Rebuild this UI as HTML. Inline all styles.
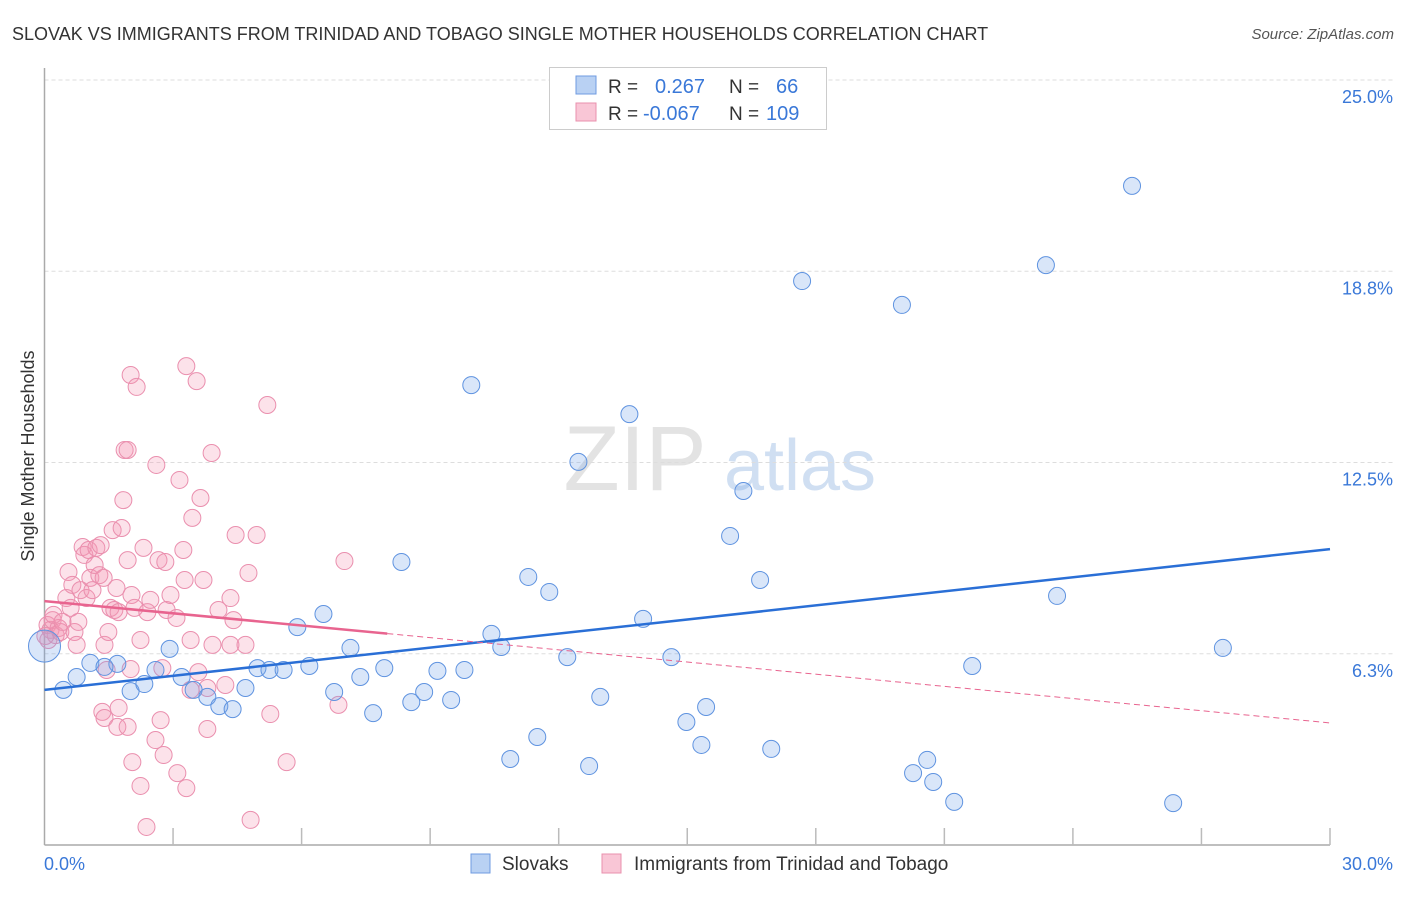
<!DOCTYPE html>
<html><head><meta charset="utf-8">
<style>
body{margin:0;background:#fff;font-family:"Liberation Sans",sans-serif;}
svg text{font-family:"Liberation Sans",sans-serif;}
</style></head>
<body>
<svg id="chart" width="1406" height="892" xmlns="http://www.w3.org/2000/svg">
<text x="12" y="40" font-size="18" fill="#333">SLOVAK VS IMMIGRANTS FROM TRINIDAD AND TOBAGO SINGLE MOTHER HOUSEHOLDS CORRELATION CHART</text>
<text x="1394" y="39" font-size="15" fill="#555" text-anchor="end" font-style="italic">Source: ZipAtlas.com</text>
<text transform="translate(34,456) rotate(-90)" font-size="18" fill="#333" text-anchor="middle">Single Mother Households</text>
<g>
<text x="635" y="490" font-size="92" fill="#ddd" text-anchor="middle" font-family="Liberation Serif" opacity="0.8">ZIP</text>
<text x="800" y="490" font-size="72" fill="#c5d8ef" text-anchor="middle" opacity="0.8">atlas</text>
</g>
<g id="grid"></g>
<g id="axes"></g>
<g id="pinkPts"></g>
<g id="bluePts"></g>
<g id="trends"></g>
<g>
<rect x="549.5" y="67.5" width="277" height="62" fill="#fff" stroke="#ccc"/>
<rect x="576" y="76" width="20" height="18" fill="#b9d1f3" stroke="#6f9be0"/>
<text x="608" y="93" font-size="19" fill="#333">R =</text>
<text x="655" y="93" font-size="20" fill="#3a78d8">0.267</text>
<text x="729" y="93" font-size="19" fill="#333">N =</text>
<text x="776" y="93" font-size="20" fill="#3a78d8">66</text>
<rect x="576" y="103" width="20" height="18" fill="#f9c6d6" stroke="#e990ad"/>
<text x="608" y="120" font-size="19" fill="#333">R =</text>
<text x="643" y="120" font-size="20" fill="#3a78d8">-0.067</text>
<text x="729" y="120" font-size="19" fill="#333">N =</text>
<text x="766" y="120" font-size="20" fill="#3a78d8">109</text>
</g>
<g>
<rect x="471" y="854" width="19" height="19" fill="#b9d1f3" stroke="#6f9be0"/>
<text x="502" y="870" font-size="19" fill="#333">Slovaks</text>
<rect x="602" y="854" width="19" height="19" fill="#f9c6d6" stroke="#e990ad"/>
<text x="634" y="870" font-size="19" fill="#333">Immigrants from Trinidad and Tobago</text>
</g>
</svg>
<script>
const yTicks=[6.25,12.5,18.75,25];
const yTickLabels=["6.3%","12.5%","18.8%","25.0%"];
const xTicks=[3,6,9,12,15,18,21,24,27,30];
const blueX=[0.0,0.44,0.75,1.07,1.70,1.40,2.01,2.33,2.59,2.92,3.20,3.48,3.80,4.08,4.39,4.69,4.97,5.25,5.58,5.90,6.18,6.51,6.76,7.14,7.37,7.67,7.93,8.33,8.56,8.86,9.17,9.49,9.80,9.96,10.43,10.66,10.87,11.29,11.50,11.78,12.20,12.46,12.71,12.97,13.65,13.97,14.63,14.98,15.33,15.44,16.00,16.31,16.70,16.96,17.68,20.01,20.27,20.60,20.74,21.23,21.65,23.37,23.63,25.38,26.34,27.50];
const blueY=[6.5,5.07,5.49,5.95,5.92,5.82,5.03,5.26,5.72,6.41,5.49,5.07,4.84,4.54,4.44,5.13,5.78,5.72,5.72,7.12,5.85,7.55,5.00,6.44,5.49,4.31,5.78,9.25,4.67,5.00,5.69,4.74,5.72,15.03,6.90,6.47,2.81,8.76,3.53,8.27,6.14,12.52,2.58,4.84,14.08,7.39,6.14,4.02,3.27,4.51,10.10,11.57,8.66,3.14,18.43,17.65,2.35,2.78,2.06,1.41,5.85,18.95,8.14,21.54,1.37,6.44];
const pinkX=[0.07,0.14,0.19,0.26,0.09,0.33,0.37,0.21,0.42,0.02,0.56,0.51,0.61,0.65,0.70,0.75,0.79,0.89,0.84,0.93,0.98,1.03,1.07,1.12,1.17,1.21,1.28,1.31,1.38,1.40,1.45,1.49,1.54,1.59,1.63,1.68,1.73,1.80,1.84,1.87,1.94,1.94,2.01,2.03,2.10,2.15,2.24,2.31,2.40,2.47,2.61,2.66,2.71,2.75,2.82,2.85,2.94,3.08,3.15,3.24,3.27,3.31,3.41,3.45,3.55,3.59,3.64,3.71,3.80,3.90,3.92,4.06,4.22,4.34,4.41,4.34,4.46,4.69,4.76,4.95,5.20,7.00,6.86,1.35,1.40,1.73,1.70,1.94,2.05,2.24,2.38,2.59,2.78,3.10,3.31,3.80,4.81,5.27,5.65,2.01,3.41];
const pinkY=[7.19,7.03,7.35,6.86,6.70,7.09,6.96,7.52,7.29,6.83,8.92,8.07,7.75,8.50,6.96,6.54,7.29,9.74,8.33,9.48,8.07,9.64,8.73,8.33,9.15,9.71,8.82,9.80,8.73,6.54,5.72,6.96,7.75,10.29,7.68,8.40,7.61,10.36,11.27,12.91,12.91,9.31,15.36,8.17,7.75,14.97,6.70,9.71,7.61,8.01,12.42,9.31,4.08,5.78,9.25,7.68,8.17,7.42,11.93,9.64,8.66,15.65,6.70,10.69,15.16,5.65,11.34,8.66,5.13,12.81,6.54,7.68,5.23,8.07,7.35,6.54,10.13,6.54,8.89,10.13,14.38,9.28,4.58,4.35,4.15,4.48,3.86,3.86,2.71,1.93,0.59,3.43,2.94,2.35,1.86,3.79,0.82,4.28,2.71,5.75,5.07];
const blueTrend=[5.07,9.67];
const pinkTrend=[7.97,3.99];
const pinkSolidEnd=8.0;

const NS="http://www.w3.org/2000/svg";
const X0=44.5,X1=1330,Y0=845,PXY=30.6;
function sx(v){return X0+(X1-X0)*v/30;}
function sy(v){return Y0-PXY*v;}
function mk(tag,attrs,parent){const e=document.createElementNS(NS,tag);for(const k in attrs)e.setAttribute(k,attrs[k]);parent.appendChild(e);return e;}
const grid=document.getElementById('grid'),axes=document.getElementById('axes');
yTicks.forEach((t,i)=>{
 const l=mk('line',{x1:X0,x2:1394,y1:sy(t),y2:sy(t),stroke:'#ddd','stroke-dasharray':'4,3'},grid);
 
 
 const tx=mk('text',{x:1393,y:sy(t)+23,'font-size':18,fill:'#3a78d8','text-anchor':'end'},grid);
 tx.textContent=yTickLabels[i];
 
 
});
const ya=mk('line',{x1:X0,x2:X0,y1:68,y2:Y0,stroke:'#aaa','stroke-width':1.5},axes);


const xa=mk('line',{x1:X0,x2:X1,y1:Y0,y2:Y0,stroke:'#aaa','stroke-width':1.5},axes);


xTicks.forEach(t=>{
 const l=mk('line',{x1:sx(t),x2:sx(t),y1:828,y2:Y0,stroke:'#bbb','stroke-width':1.5},axes);
 
 
});
const xl0=mk('text',{x:44,y:870,'font-size':18,fill:'#3a78d8'},axes);xl0.textContent='0.0%';


const xl1=mk('text',{x:1393,y:870,'font-size':18,fill:'#3a78d8','text-anchor':'end'},axes);xl1.textContent='30.0%';



const pg=document.getElementById('pinkPts');
pinkX.forEach((v,i)=>{
 const c=mk('circle',{cx:sx(v),cy:sy(pinkY[i]),r:8.5,fill:'rgba(244,150,180,0.28)',stroke:'#ea8fae','stroke-width':1},pg);
 
 
});
const bg=document.getElementById('bluePts');
blueX.forEach((v,i)=>{
 const c=mk('circle',{cx:sx(v),cy:sy(blueY[i]),r:i===0?16:8.5,fill:'rgba(120,165,235,0.28)',stroke:'#5f93e0','stroke-width':1},bg);
 
 
});
const tg=document.getElementById('trends');
const bt=mk('line',{x1:sx(0),y1:sy(blueTrend[0]),x2:sx(30),y2:sy(blueTrend[1]),stroke:'#2a6fd6','stroke-width':2.5},tg);


const pAt=x=>pinkTrend[0]+(pinkTrend[1]-pinkTrend[0])*x/30;
const ps=mk('line',{x1:sx(0),y1:sy(pAt(0)),x2:sx(pinkSolidEnd),y2:sy(pAt(pinkSolidEnd)),stroke:'#e8648f','stroke-width':2.5},tg);


const pd=mk('line',{x1:sx(pinkSolidEnd),y1:sy(pAt(pinkSolidEnd)),x2:sx(30),y2:sy(pAt(30)),stroke:'#e8648f','stroke-width':1,'stroke-dasharray':'6,4'},tg);


</script>
</body></html>
